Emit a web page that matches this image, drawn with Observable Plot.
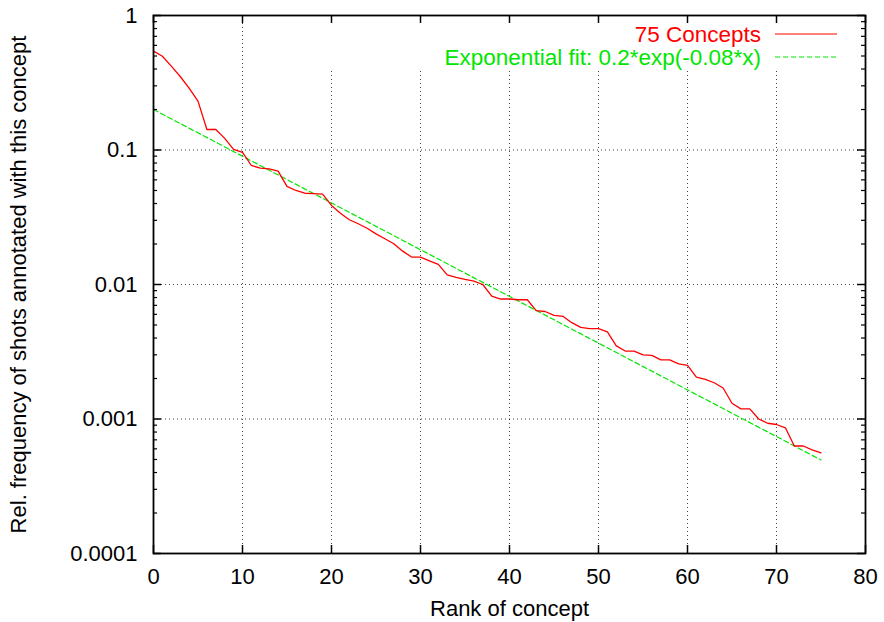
<!DOCTYPE html>
<html><head><meta charset="utf-8">
<script src="https://cdn.jsdelivr.net/npm/d3@7"></script>
<script src="https://cdn.jsdelivr.net/npm/@observablehq/plot@0.6"></script>
<style>body{margin:0;background:#fff} svg{display:block}</style>
</head><body><div id="chart"></div>
<script>
// ---- data ----
const rank = [0,1,2,3,4,5,6,7,8,9,10,11,12,13,14,15,16,17,18,19,20,21,22,23,24,25,26,27,28,29,30,31,32,33,34,35,36,37,38,39,40,41,42,43,44,45,46,47,48,49,50,51,52,53,54,55,56,57,58,59,60,61,62,63,64,65,66,67,68,69,70,71,72,73,74,75];
const freq = [0.543,0.498,0.42,0.352,0.288,0.231,0.142,0.142,0.122,0.101,0.096,0.0767,0.0733,0.0725,0.0696,0.0536,0.050,0.0477,0.0474,0.047,0.0387,0.0339,0.0303,0.0283,0.0262,0.0238,0.0219,0.0201,0.0177,0.0160,0.0160,0.0150,0.0141,0.0118,0.0113,0.0109,0.0106,0.0100,0.0082,0.0078,0.0078,0.0077,0.0077,0.0064,0.0063,0.0059,0.0058,0.0052,0.0048,0.0047,0.0047,0.00445,0.0035,0.0032,0.0032,0.0030,0.00297,0.00275,0.00275,0.00257,0.0025,0.00205,0.00197,0.00186,0.0017,0.00131,0.00119,0.00119,0.0010,0.00093,0.00091,0.00086,0.00063,0.00063,0.00059,0.00056];
const fitX = [0, 75];
const fitY = [0.2, 0.000496];
const xTicks = [0,10,20,30,40,50,60,70,80];
const xTickLabels = ["0","10","20","30","40","50","60","70","80"];
const xGrid = [10,20,30,40,50,60,70];
const yTicks = [1,0.1,0.01,0.001,0.0001];
const yTickLabels = ["1","0.1","0.01","0.001","0.0001"];
const yGrid = [0.1,0.01,0.001];
const seriesNames = ["75 Concepts","Exponential fit: 0.2*exp(-0.08*x)"];
const seriesColors = ["#ff0000","#00e600"];
const xTitle = "Rank of concept";
const yTitle = "Rel. frequency of shots annotated with this concept";

// ---- layout ----
const W = 884, H = 622, mL = 153, mR = 19, mT = 15, mB = 69;
const innerW = W - mL - mR, innerH = H - mT - mB;
const majorLen = 8, minorLen = 4;
const yMinor = yTicks.slice(1).flatMap(d => [2,3,4,5,6,7,8,9].map(k => +(k * d).toPrecision(3)));

const points = rank.map((r, i) => ({rank: r, freq: freq[i]}));
const fit = fitX.map((x, i) => ({rank: x, freq: fitY[i]}));
const gridStyle = {stroke: "#000", strokeOpacity: 0.75, strokeWidth: 1, strokeDasharray: "1,3"};
const font = "'Liberation Sans', Arial, Helvetica, sans-serif";

const plot = Plot.plot({
  width: W, height: H,
  marginLeft: mL, marginRight: mR, marginTop: mT, marginBottom: mB,
  style: {fontFamily: font, fontSize: "22px", background: "#fff", overflow: "visible"},
  x: {domain: [0, 80]},
  y: {type: "log", domain: [0.0001, 1]},
  marks: [
    Plot.gridX(xGrid, gridStyle),
    Plot.gridY(yGrid, gridStyle),
    Plot.line(fit, {x: "rank", y: "freq", stroke: seriesColors[1], strokeWidth: 1.2, strokeDasharray: "5,3"}),
    Plot.line(points, {x: "rank", y: "freq", stroke: seriesColors[0], strokeWidth: 1.3}),
    Plot.tickX(xTicks, {x: d => d, insetTop: innerH - majorLen, stroke: "#000", strokeWidth: 1.5}),
    Plot.tickX(xTicks, {x: d => d, insetBottom: innerH - majorLen, stroke: "#000", strokeWidth: 1.5}),
    Plot.tickY(yTicks, {y: d => d, insetRight: innerW - majorLen, stroke: "#000", strokeWidth: 1.5}),
    Plot.tickY(yTicks, {y: d => d, insetLeft: innerW - majorLen, stroke: "#000", strokeWidth: 1.5}),
    Plot.tickY(yMinor, {y: d => d, insetRight: innerW - minorLen, stroke: "#000", strokeWidth: 1.2}),
    Plot.tickY(yMinor, {y: d => d, insetLeft: innerW - minorLen, stroke: "#000", strokeWidth: 1.2}),
    Plot.frame({stroke: "#000", strokeWidth: 1.8}),
    Plot.axisX(xTicks, {tickSize: 0, tickPadding: 15, label: null, fill: "#000", tickFormat: d => xTickLabels[xTicks.indexOf(d)]}),
    Plot.axisY(yTicks, {tickSize: 0, tickPadding: 16, label: null, fill: "#000", tickFormat: d => yTickLabels[yTicks.indexOf(d)]}),
    Plot.text([xTitle], {frameAnchor: "bottom", dy: 55, lineAnchor: "middle", text: d => d, fill: "#000"}),
    Plot.text([yTitle], {frameAnchor: "left", dx: -135, rotate: -90, textAnchor: "middle", lineAnchor: "middle", text: d => d, fill: "#000"})
  ]
});
document.getElementById("chart").appendChild(plot);

// ---- legend (gnuplot-style key, top right, opaque) ----
const svg = d3.select(plot);
svg.insert("rect", "g[aria-label=tick]")
  .attr("x", 280).attr("y", mT + 1).attr("width", W - mR - 281).attr("height", 53)
  .attr("fill", "#fff");
const legend = svg.append("g").attr("font-family", font).attr("font-size", 22.5);
const rowY = [34, 57];
seriesNames.forEach((name, i) => {
  legend.append("text").attr("x", 761).attr("y", rowY[i]).attr("text-anchor", "end")
    .attr("dominant-baseline", "central").attr("fill", seriesColors[i]).text(name);
  legend.append("line").attr("x1", 775).attr("x2", 837).attr("y1", rowY[i]).attr("y2", rowY[i])
    .attr("stroke", seriesColors[i]).attr("stroke-width", 1.2)
    .attr("stroke-dasharray", i === 1 ? "5,3" : null);
});
</script>
</body></html>
